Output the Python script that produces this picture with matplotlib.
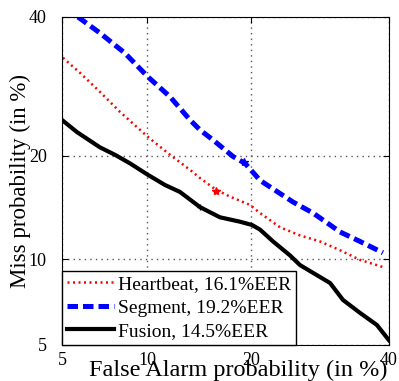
import math
import numpy as np
import matplotlib
matplotlib.use("Agg")
import matplotlib.pyplot as plt

# DET curve data (in %)
heartbeat_pfa = [5.04, 5.84, 6.90, 8.10, 10.04, 11.80, 13.57, 14.51, 16.12, 17.61, 19.91, 21.12, 23.67, 26.37, 29.22, 32.20, 35.32, 39.01]
heartbeat_pmiss = [33.5, 31.2, 28.4, 25.6, 22.3, 20.1, 18.35, 17.45, 16.2, 15.5, 14.67, 13.9, 12.6, 11.9, 11.4, 10.7, 9.96, 9.44]

segment_pfa = [5.74, 6.90, 8.43, 10.04, 11.80, 13.57, 14.51, 15.83, 17.96, 19.33, 21.12, 22.37, 25.40, 28.20, 30.26, 32.20, 35.32, 39.01]
segment_pmiss = [40.0, 37.4, 34.2, 30.6, 27.7, 24.5, 23.2, 21.9, 19.9, 19.1, 17.2, 16.5, 14.96, 13.9, 13.0, 12.2, 11.4, 10.5]

fusion_pfa = [5.0, 5.70, 6.90, 7.79, 8.76, 10.04, 11.38, 12.66, 14.51, 16.53, 18.73, 20.16, 21.12, 22.76, 24.99, 26.37, 30.71, 32.67, 35.32, 38.02, 39.97]
fusion_pmiss = [24.5, 22.9, 21.0, 20.1, 19.1, 17.8, 16.7, 15.97, 14.46, 13.5, 13.1, 12.8, 12.4, 11.4, 10.3, 9.58, 8.35, 7.30, 6.57, 5.94, 5.22]

eer = {"Heartbeat": 16.1, "Segment": 19.2, "Fusion": 14.5}
ticks = [5, 10, 20, 40]

# probit (normal deviate) scale, Acklam approximation
_a = [-3.969683028665376e+01, 2.209460984245205e+02, -2.759285104469687e+02,
      1.383577518672690e+02, -3.066479806614716e+01, 2.506628277459239e+00]
_b = [-5.447609879822406e+01, 1.615858368580409e+02, -1.556989798598866e+02,
      6.680131188771972e+01, -1.328068155288572e+01]
_c = [-7.784894002430293e-03, -3.223964580411365e-01, -2.400758277161838e+00,
      -2.549732539343734e+00, 4.374664141464968e+00, 2.938163982698783e+00]
_d = [7.784695709041462e-03, 3.224671290700398e-01, 2.445134137142996e+00,
      3.754408661907416e+00]


def _ndtri_one(p):
    p = min(max(p, 1e-9), 1 - 1e-9)
    if p < 0.02425:
        q = math.sqrt(-2 * math.log(p))
        return (((((_c[0]*q+_c[1])*q+_c[2])*q+_c[3])*q+_c[4])*q+_c[5]) / \
               ((((_d[0]*q+_d[1])*q+_d[2])*q+_d[3])*q+1)
    if p > 1 - 0.02425:
        q = math.sqrt(-2 * math.log(1 - p))
        return -(((((_c[0]*q+_c[1])*q+_c[2])*q+_c[3])*q+_c[4])*q+_c[5]) / \
               ((((_d[0]*q+_d[1])*q+_d[2])*q+_d[3])*q+1)
    q = p - 0.5
    r = q * q
    return (((((_a[0]*r+_a[1])*r+_a[2])*r+_a[3])*r+_a[4])*r+_a[5])*q / \
           (((((_b[0]*r+_b[1])*r+_b[2])*r+_b[3])*r+_b[4])*r+1)


_ndtri = np.vectorize(_ndtri_one, otypes=[float])
_erf = np.vectorize(math.erf, otypes=[float])


def forward(pct):
    return _ndtri(np.asarray(pct, dtype=float) / 100.0)


def inverse(z):
    return 100.0 * 0.5 * (1 + _erf(np.asarray(z, dtype=float) / math.sqrt(2)))


plt.rcParams['font.family'] = ['Liberation Serif', 'DejaVu Serif']

fig = plt.figure(figsize=(3.99, 3.81), dpi=100)
ax = fig.add_axes([0.1554, 0.0945, 0.8195, 0.8609])
ax.set_xscale('function', functions=(forward, inverse))
ax.set_yscale('function', functions=(forward, inverse))

ax.plot(heartbeat_pfa, heartbeat_pmiss, color='red', linestyle=(0, (0.8, 1.4)), lw=1.8,
        label='Heartbeat, 16.1%EER')
ax.plot(segment_pfa, segment_pmiss, color='blue', linestyle=(0, (2.1, 1.0)), lw=3.6,
        label='Segment, 19.2%EER')
ax.plot(fusion_pfa, fusion_pmiss, color='black', linestyle='-', lw=3,
        label='Fusion, 14.5%EER')

ax.plot([eer["Heartbeat"]], [eer["Heartbeat"]], '*', color='red', ms=6)
ax.plot([eer["Segment"]], [eer["Segment"]], '*', color='blue', ms=6)
ax.plot([eer["Fusion"]], [eer["Fusion"]], '+', color='black', ms=5)

ax.set_xlim(5, 40)
ax.set_ylim(5, 40)
ax.set_xticks(ticks)
ax.set_yticks(ticks)
ax.set_xticklabels([str(t) for t in ticks])
ax.set_yticklabels([str(t) for t in ticks])
ax.minorticks_off()
ax.tick_params(direction='in', length=4, top=True, right=True, labelsize=13)
ax.tick_params(axis='x', pad=5)
ax.tick_params(axis='y', pad=11)
ax.grid(True, linestyle=(0, (1, 3)), color='#555555', lw=1)
ax.set_axisbelow(True)

ax.set_xlabel('False Alarm probability (in %)', fontsize=17.5, va='center')
ax.xaxis.set_label_coords(0.538, -0.076)
ax.set_ylabel('Miss probability (in %)', fontsize=16.5, va='center')
ax.yaxis.set_label_coords(-0.128, 0.5)

leg = ax.legend(loc='lower left', bbox_to_anchor=(0, 0), borderaxespad=0,
                fontsize=14, handlelength=2.4, handletextpad=0.25,
                labelspacing=0.3, borderpad=0.25, fancybox=False, framealpha=1)
leg.get_frame().set_edgecolor('black')
leg.get_frame().set_linewidth(1)

fig.savefig('out.png', dpi=100)
